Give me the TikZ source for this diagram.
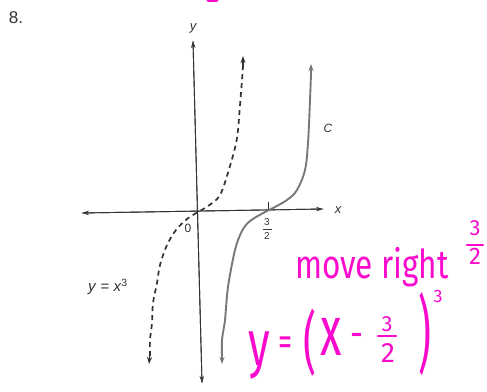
\documentclass[tikz,border=0pt]{standalone}
\usepackage{fontspec}
\setmainfont{Liberation Sans}
\newfontfamily\hand{Fira Sans}
\usetikzlibrary{arrows.meta}
\definecolor{ink}{RGB}{50,50,50}
\definecolor{cgray}{RGB}{120,120,120}
\definecolor{pen}{RGB}{250,10,205}
\tikzset{
  axisline/.style={draw=ink, line width=0.9pt, -{Stealth[length=7pt,width=4.5pt]}},
  dashcurve/.style={draw=ink, line width=1.7pt, dash pattern=on 5pt off 4pt},
  solidcurve/.style={draw=cgray, line width=1.9pt},
  lbl/.style={text=ink, inner sep=0pt},
  pennode/.style={text=pen, inner sep=0pt},
  penline/.style={draw=pen, line width=2.6pt, line cap=round}
}
\begin{document}
\begin{tikzpicture}[x=1pt,y=-1pt]
\useasboundingbox (0,0) rectangle (487,391);
\fill[white] (0,0) rectangle (487,391);
% axes
\coordinate (xl) at (82,213);
\coordinate (xr) at (323,209);
\coordinate (yt) at (193,41);
\coordinate (yb) at (202,383);
\draw[axisline] (xr) -- (xl);
\draw[axisline] (yb) -- (yt);
\draw[axisline] (yt) -- (yb);
\draw[axisline] (xl) -- (xr);
\coordinate (tk1) at (268,202);
\coordinate (tk2) at (268,211);
\draw[ink, line width=0.9pt] (tk1) -- (tk2);
% dashed curve y = x^3
\draw[dashcurve] plot[smooth, tension=0.55] coordinates {(150,356) (150,340) (152,323) (153,303) (157,283) (160,265) (167,245) (176,230) (187,219) (198,212) (208,206) (220,195) (230,166) (237,138) (240,105) (242,80) (243,66)};
\coordinate (db1) at (150,352); \coordinate (db2) at (149,364);
\coordinate (dt1) at (243,68); \coordinate (dt2) at (243,56);
\draw[ink, line width=1.2pt, -{Stealth[length=7pt,width=5pt]}] (db1) -- (db2);
\draw[ink, line width=1.2pt, -{Stealth[length=7pt,width=5pt]}] (dt1) -- (dt2);
% solid curve C
\draw[solidcurve] plot[smooth, tension=0.55] coordinates {(222,358) (222,340) (225,320) (228,287) (235,250) (242,231) (250,221) (265,212) (273,208) (287,200) (297,190) (305,170) (308,143) (310,100) (311,74)};
\coordinate (cb1) at (222,352); \coordinate (cb2) at (222,364);
\coordinate (ct1) at (311,76); \coordinate (ct2) at (311,64);
\draw[cgray, line width=1.4pt, -{Stealth[length=7pt,width=5pt]}] (cb1) -- (cb2);
\draw[cgray, line width=1.4pt, -{Stealth[length=7pt,width=5pt]}] (ct1) -- (ct2);
% labels
\node[lbl, font=\fontsize{17}{17}\selectfont] (num) at (16,18) {8.};
\node[lbl, font=\fontsize{13}{13}\selectfont\itshape] (ylab) at (193,28) {y};
\node[lbl, font=\fontsize{13}{13}\selectfont\itshape] (xlab) at (338,210) {x};
\node[lbl, font=\fontsize{12}{12}\selectfont\itshape] (clab) at (328,128) {C};
\node[lbl, font=\fontsize{12}{12}\selectfont] (zero) at (188,228) {0};
\node[lbl, font=\fontsize{10}{10}\selectfont] (th) at (267,222) {3};
\node[lbl, font=\fontsize{10}{10}\selectfont] (tw) at (267,236) {2};
\coordinate (fb1) at (262.5,229); \coordinate (fb2) at (271.5,229);
\draw[ink, line width=0.7pt] (fb1) -- (fb2);
\node[lbl, font=\fontsize{15}{15}\selectfont, anchor=west] (ylabel) at (88,287) {\textit{y}\ =\ \textit{x}\textsuperscript{3}};
% pink handwriting
\coordinate (pk1) at (208,0.5); \coordinate (pk2) at (217,0.5);
\draw[penline] (pk1) -- (pk2);
\node[pennode, font=\hand\fontsize{38}{38}\selectfont, anchor=base west] (move) at (295,278) {\scalebox{0.83}[1.05]{move right}};
\node[pennode, font=\hand\fontsize{22}{22}\selectfont] (m3) at (475,228) {3};
\node[pennode, font=\hand\fontsize{24}{24}\selectfont] (m2) at (475,256) {2};
\coordinate (mb1) at (467,245); \coordinate (mb2) at (483,245);
\draw[penline] (mb1) -- (mb2);
\node[pennode, font=\hand\fontsize{40}{40}\selectfont] (ey) at (259,355) {\scalebox{1.1}[1.6]{y}};
\node[pennode, font=\hand\fontsize{40}{40}\selectfont] (eq) at (285,346) {\scalebox{0.7}[1]{=}};
\node[pennode, font=\hand\fontsize{40}{40}\selectfont] (lp) at (310,343) {\scalebox{1}[1.7]{(}};
\node[pennode, font=\hand\fontsize{44}{44}\selectfont] (ex) at (331,337) {\scalebox{1}[1.6]{x}};
\node[pennode, font=\hand\fontsize{40}{40}\selectfont] (mi) at (357,340) {\scalebox{0.8}[1]{-}};
\node[pennode, font=\hand\fontsize{22}{22}\selectfont] (f3) at (387,324) {3};
\coordinate (eb1) at (378,336); \coordinate (eb2) at (396,336);
\draw[penline] (eb1) -- (eb2);
\node[pennode, font=\hand\fontsize{28}{28}\selectfont] (f2) at (388,353) {2};
\node[pennode, font=\hand\fontsize{40}{40}\selectfont] (rp) at (425,334) {\scalebox{1}[2.1]{)}};
\node[pennode, font=\hand\fontsize{18}{18}\selectfont] (e3) at (438,296) {3};
\end{tikzpicture}
\end{document}
